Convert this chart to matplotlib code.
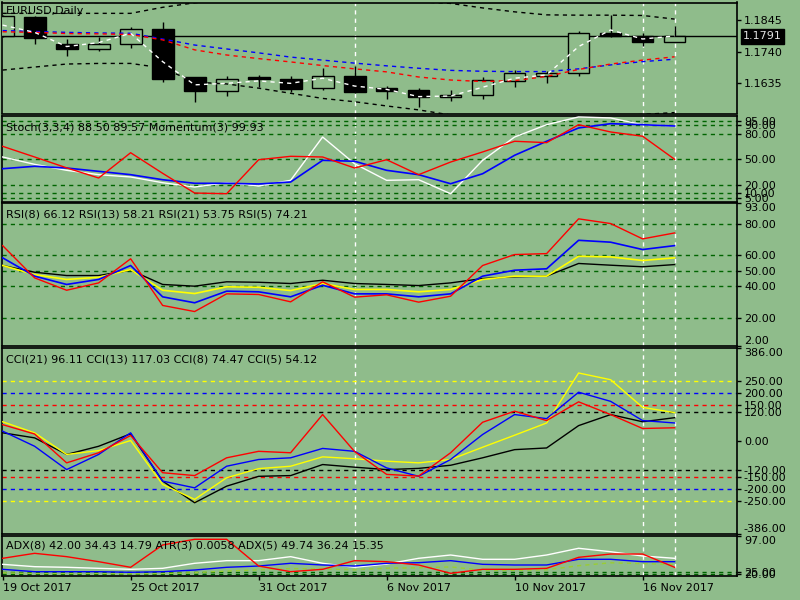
"""EURUSD daily chart in MetaTrader style: candles + four indicator sub-windows."""

import matplotlib

matplotlib.use("Agg")
import matplotlib.pyplot as plt

BG = "#8FBC8B"
LEVEL = "#006400"
DASH = (0, (3, 3))
W, H = 800, 600
LEFT, RIGHT = 2, 737

# --- data -----------------------------------------------------------------
tick_idx = [0, 4, 8, 12, 16, 20]
tick_labels = ["19 Oct 2017", "25 Oct 2017", "31 Oct 2017", "6 Nov 2017",
               "10 Nov 2017", "16 Nov 2017"]
marker_bars = [11, 20, 21]

opens = [1.1792, 1.1854, 1.1764, 1.1750, 1.1764, 1.1814, 1.1655, 1.1609, 1.1655, 1.1648, 1.1620,
         1.1658, 1.1619, 1.1613, 1.1589, 1.1597, 1.1642, 1.1658, 1.1670, 1.1801, 1.1793, 1.1773]
highs = [1.1860, 1.1858, 1.1781, 1.1788, 1.1823, 1.1837, 1.1655, 1.1659, 1.1662, 1.1659, 1.1685,
         1.1693, 1.1626, 1.1621, 1.1613, 1.1657, 1.1679, 1.1677, 1.1809, 1.1862, 1.1801, 1.1825]
lows = [1.1787, 1.1764, 1.1727, 1.1743, 1.1753, 1.1640, 1.1574, 1.1594, 1.1624, 1.1605, 1.1613,
        1.1604, 1.1582, 1.1556, 1.1577, 1.1583, 1.1624, 1.1637, 1.1659, 1.1788, 1.1759, 1.1773]
closes = [1.1858, 1.1784, 1.1750, 1.1764, 1.1814, 1.1650, 1.1609, 1.1650, 1.1648, 1.1617, 1.1658,
          1.1607, 1.1611, 1.1589, 1.1595, 1.1645, 1.1669, 1.1669, 1.1801, 1.1793, 1.1771, 1.1791]
last_price = 1.1791
price_ticks = [1.1845, 1.1740, 1.1635]

ma_fast = [1.1828, 1.1804, 1.1757, 1.1770, 1.1801, 1.1707, 1.1630, 1.1635, 1.1643, 1.1635, 1.1652,
           1.1626, 1.1615, 1.1591, 1.1593, 1.1622, 1.1652, 1.1663, 1.1757, 1.1812, 1.1782, 1.1792]
ma_red = [1.1806, 1.1804, 1.1800, 1.1799, 1.1797, 1.1779, 1.1746, 1.1729, 1.1717, 1.1706, 1.1694,
          1.1683, 1.1673, 1.1656, 1.1646, 1.1641, 1.1644, 1.1658, 1.1681, 1.1699, 1.1712, 1.1723]
ma_blue = [1.1810, 1.1807, 1.1804, 1.1802, 1.1801, 1.1782, 1.1762, 1.1749, 1.1736, 1.1722, 1.1712,
           1.1702, 1.1693, 1.1685, 1.1678, 1.1675, 1.1674, 1.1674, 1.1683, 1.1696, 1.1707, 1.1715]
band_up = [1.1867, 1.1867, 1.1867, 1.1867, 1.1867, 1.1887, 1.1902, 1.1912, 1.1915, 1.1915, 1.1913,
           1.1911, 1.1908, 1.1905, 1.1900, 1.1885, 1.1872, 1.1862, 1.1861, 1.1861, 1.1860, 1.1848]
band_dn = [1.1679, 1.1689, 1.1699, 1.1701, 1.1701, 1.1686, 1.1639, 1.1633, 1.1619, 1.1602, 1.1585,
           1.1574, 1.1560, 1.1547, 1.1530, 1.1522, 1.1518, 1.1518, 1.1520, 1.1524, 1.1532, 1.1538]

stoch_red = [65.2, 52.7, 40.0, 28.1, 57.7, 33.6, 10.5, 9.7, 49.5, 53.5, 52.7, 39.8, 49.5, 32.0,
             46.8, 58.6, 71.1, 69.5, 90.5, 82.0, 77.0, 50.0]
stoch_blue = [39.0, 41.8, 39.8, 35.9, 32.0, 26.1, 21.9, 21.9, 21.1, 23.4, 48.8, 47.7, 37.1, 32.0,
              21.4, 33.1, 54.7, 71.1, 86.7, 91.7, 90.5, 89.0]
stoch_white = [52.7, 44.1, 37.1, 32.0, 29.3, 22.6, 17.5, 22.6, 18.7, 25.4, 76.1, 44.8, 25.4, 26.1,
               9.7, 48.8, 76.1, 90.5, 99.6, 98.4, 90.5, 89.0]
stoch_levels = [95, 90, 80, 50, 20, 10, 5]

rsi5 = [66.1, 45.5, 37.6, 42.3, 57.7, 27.9, 24.0, 35.3, 34.9, 30.2, 43.0, 33.2, 34.7, 30.0, 33.8,
        53.4, 60.4, 61.0, 83.2, 80.2, 70.4, 74.2]
rsi8 = [58.3, 46.6, 41.3, 44.5, 53.4, 33.4, 29.6, 37.0, 36.6, 33.4, 40.8, 35.3, 35.3, 33.4, 35.3,
        46.6, 50.4, 51.3, 69.5, 68.3, 63.6, 66.1]
rsi13 = [53.4, 47.6, 44.5, 45.9, 50.8, 37.6, 35.5, 39.8, 39.5, 37.4, 41.9, 38.1, 38.1, 36.6, 38.1,
         44.5, 46.6, 46.6, 59.3, 58.9, 56.6, 58.3]
rsi21 = [53.4, 49.1, 47.0, 47.0, 50.4, 41.3, 40.2, 43.0, 42.7, 41.9, 44.0, 41.9, 41.3, 40.6, 42.3,
         45.1, 46.2, 46.6, 54.7, 53.6, 52.6, 54.0]
rsi_ticks = [93, 80, 60, 50, 40, 20, 2]
rsi_levels = [80, 60, 50, 40, 20]

cci5 = [67, 28, -92, -50, 22, -133, -145, -71, -44, -50, 109, -45, -140, -147, -50, 77, 123, 84,
        162, 109, 51, 54]
cci8 = [40, -23, -120, -57, 33, -168, -196, -106, -78, -71, -32, -44, -113, -148, -78, 26, 109,
        92, 202, 164, 84, 74]
cci13 = [79, 33, -57, -41, 1, -182, -244, -154, -116, -106, -67, -75, -85, -92, -78, -27, 23, 74,
         282, 254, 139, 117]
cci21 = [33, 12, -57, -23, 29, -168, -258, -189, -148, -145, -99, -110, -120, -115, -102, -71, -37,
         -30, 63, 109, 79, 96]
cci_ticks = [386, 250, 200, 150, 120, 0, -120, -150, -200, -250, -386]
cci_levels = {250: "yellow", 200: "blue", 150: "red", 120: "black"}

adx_red = [42.9, 55.0, 46.9, 34.7, 21.1, 75.2, 89.0, 89.0, 24.2, 10.5, 16.2, 37.2, 34.7, 26.7, 6.5,
           16.2, 16.2, 18.6, 45.3, 53.3, 53.3, 21.1]
adx_white = [28.3, 22.6, 21.1, 18.6, 16.2, 18.6, 30.8, 37.2, 37.2, 46.9, 30.8, 21.1, 29.0, 42.9,
             50.9, 40.5, 40.5, 50.9, 67.2, 58.9, 48.5, 42.9]
adx_blue = [16.2, 10.4, 10.4, 10.4, 9.0, 10.4, 14.5, 21.1, 24.2, 30.8, 26.7, 24.2, 30.8, 32.3, 37.2,
            28.3, 26.7, 26.7, 40.5, 40.5, 34.7, 34.7]
adx_green = [8, 6, 6, 6, 5, 6, 8, 12, 15, 18, 17, 15, 19, 20, 22, 14, 14, 15, 25, 32, 30, 28]
adx_levels = [9, 4]
adx_level_labels = ["25.00", "20.00"]

x = list(range(len(closes)))


def add_panel(fig, top, bottom):
    ax = fig.add_axes([LEFT / W, 1 - bottom / H, (RIGHT - LEFT) / W, (bottom - top) / H])
    ax.set_facecolor(BG)
    for s in ax.spines.values():
        s.set_color("black")
        s.set_linewidth(1.2)
    ax.set_xlim(-0.02, 22.95)
    ax.tick_params(axis="x", bottom=False, labelbottom=False)
    ax.yaxis.tick_right()
    ax.tick_params(axis="y", direction="out", length=3, width=1, labelsize=8, pad=2)
    for i in marker_bars:
        ax.axvline(i, color="white", lw=1, ls=DASH, zorder=1)
    return ax


def title(ax, text, dy):
    ax.annotate(text, xy=(0, 1), xycoords="axes fraction", xytext=(4, -dy),
                textcoords="offset pixels", ha="left", va="center", fontsize=8, zorder=10)


def set_ticks(ax, ticks, labels=None, top=None, bottom=None):
    ax.set_yticks(ticks)
    ax.set_yticklabels(labels or [f"{t:.2f}" for t in ticks])
    for t, tk in zip(ticks, ax.yaxis.get_major_ticks()):
        if t == top:
            tk.label2.set_va("top")
        elif t == bottom:
            tk.label2.set_va("bottom")


fig = plt.figure(figsize=(8, 6), dpi=100, facecolor=BG)

# main price window
ax = add_panel(fig, 2.5, 113.5)
ax.set_ylim(1.1535, 1.1903)
for i in x:
    ax.vlines(i, lows[i], highs[i], color="black", lw=1, zorder=3)
    bull = closes[i] >= opens[i]
    ax.bar(i, abs(closes[i] - opens[i]) or 0.00003, width=0.68, bottom=min(opens[i], closes[i]),
           color=BG if bull else "black", edgecolor="black", linewidth=1, zorder=4)
ax.plot(x, band_up, color="black", lw=1, ls=DASH, zorder=5)
ax.plot(x, band_dn, color="black", lw=1, ls=DASH, zorder=5)
ax.plot(x, ma_blue, color="blue", lw=1, ls=DASH, zorder=5)
ax.plot(x, ma_red, color="red", lw=1, ls=DASH, zorder=5)
ax.plot(x, ma_fast, color="white", lw=1, ls=DASH, zorder=6)
ax.axhline(last_price, color="black", lw=1, zorder=2)
set_ticks(ax, price_ticks, [f"{p:.4f}" for p in price_ticks])
ax.annotate(f"{last_price:.4f}", xy=(1, last_price), xycoords=ax.get_yaxis_transform(),
            xytext=(6, 0), textcoords="offset pixels", ha="left", va="center", fontsize=8,
            color="#E0E0E0", bbox=dict(boxstyle="square,pad=0.2", fc="black", ec="black"),
            annotation_clip=False)
title(ax, "EURUSD,Daily", 9)

# stochastic + momentum
ax = add_panel(fig, 116, 202)
ax.set_ylim(0, 100.7)
for lv in stoch_levels:
    ax.axhline(lv, color=LEVEL, lw=1, ls=DASH, zorder=1)
ax.plot(x, stoch_white, color="white", lw=1, zorder=3)
ax.plot(x, stoch_blue, color="blue", lw=1.2, zorder=4)
ax.plot(x, stoch_red, color="red", lw=1, zorder=5)
set_ticks(ax, stoch_levels)
title(ax, "Stoch(3,3,4) 88.50 89.57 Momentum(3) 99.93", 11)

# RSI
ax = add_panel(fig, 203.5, 346)
ax.set_ylim(2, 93)
for lv in rsi_levels:
    ax.axhline(lv, color=LEVEL, lw=1, ls=DASH, zorder=1)
ax.plot(x, rsi21, color="black", lw=1, zorder=3)
ax.plot(x, rsi13, color="yellow", lw=1.2, zorder=4)
ax.plot(x, rsi8, color="blue", lw=1.2, zorder=5)
ax.plot(x, rsi5, color="red", lw=1, zorder=6)
set_ticks(ax, rsi_ticks, top=93, bottom=2)
title(ax, "RSI(8) 66.12 RSI(13) 58.21 RSI(21) 53.75 RSI(5) 74.21", 11.5)

# CCI
ax = add_panel(fig, 348, 533.5)
ax.set_ylim(-386, 386)
for lv, col in cci_levels.items():
    ax.axhline(lv, color=col, lw=1, ls=DASH, zorder=1)
    ax.axhline(-lv, color=col, lw=1, ls=DASH, zorder=1)
ax.plot(x, cci21, color="black", lw=1, zorder=3)
ax.plot(x, cci13, color="yellow", lw=1, zorder=4)
ax.plot(x, cci8, color="blue", lw=1, zorder=5)
ax.plot(x, cci5, color="red", lw=1, zorder=6)
set_ticks(ax, cci_ticks, top=386, bottom=-386)
title(ax, "CCI(21) 96.11 CCI(13) 117.03 CCI(8) 74.47 CCI(5) 54.12", 12)

# ADX + ATR
ax = add_panel(fig, 536, 576)
ax.set_ylim(0, 97)
for lv in adx_levels:
    ax.axhline(lv, color=LEVEL, lw=1, ls=DASH, zorder=1)
ax.plot(x, adx_green, color="yellowgreen", lw=1, ls=DASH, zorder=2)
ax.plot(x, adx_white, color="white", lw=1, zorder=3)
ax.plot(x, adx_blue, color="blue", lw=1, zorder=4)
ax.plot(x, adx_red, color="red", lw=1, zorder=5)
set_ticks(ax, [97] + adx_levels, ["97.00"] + adx_level_labels, top=97)
title(ax, "ADX(8) 42.00 34.43 14.79 ATR(3) 0.0058 ADX(5) 49.74 36.24 15.35", 10)
ax.set_xticks(tick_idx)
ax.set_xticklabels(tick_labels, ha="left")
ax.tick_params(axis="x", bottom=True, labelbottom=True, direction="out", length=3, width=1,
               labelsize=8, pad=2)

fig.savefig("out.png", dpi=100, facecolor=BG)
plt.close(fig)
